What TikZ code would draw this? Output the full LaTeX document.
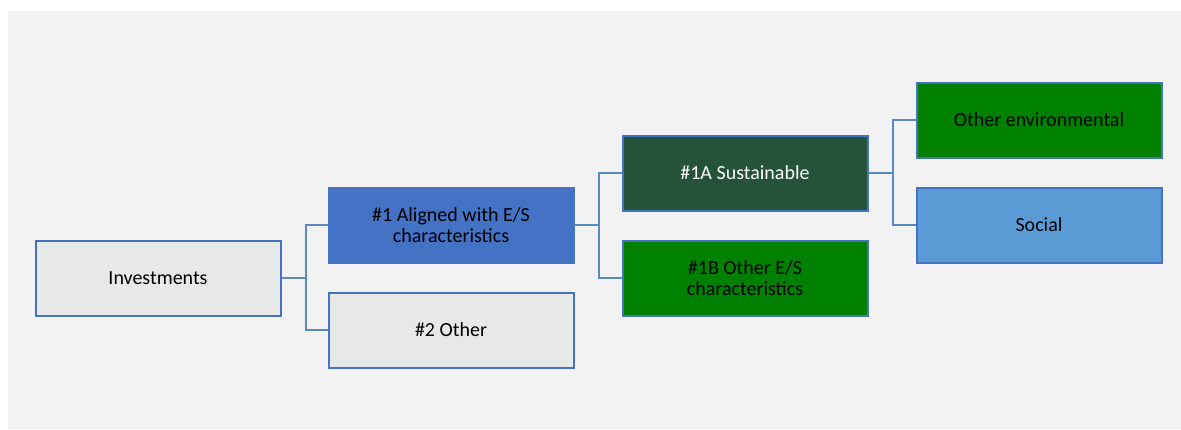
\documentclass[tikz,border=0pt]{standalone}
\usepackage{fontspec}
\setmainfont{Carlito}
\usepackage{xcolor}
\usetikzlibrary{positioning,calc}
\definecolor{bgrey}{HTML}{F2F2F2}
\definecolor{lgrey}{HTML}{E7E9E9}
\definecolor{esblue}{HTML}{4472C4}
\definecolor{lblue}{HTML}{5B9BD5}
\definecolor{dgreen}{HTML}{25533A}
\definecolor{mgreen}{HTML}{008000}
\definecolor{linkc}{HTML}{5A88C2}

\begin{document}
\begin{tikzpicture}[x=1pt, y=-1pt,
    box/.style={draw=esblue, line width=2pt, minimum width=245pt, minimum height=75pt,
        align=center, font=\fontsize{20}{21}\selectfont, inner sep=0pt},
    link/.style={draw=linkc, line width=2pt}]
    \useasboundingbox (0,0) rectangle (1181,429);
    \fill[bgrey] (8,11) rectangle (1181,429);

    \node[box, fill=lgrey] (inv) at (158,278) {Investments};
    \node[box, fill=esblue] (alig) at (451,225) {\#1 Aligned with E/S\\characteristics};
    \node[box, fill=lgrey] (oth) at (451,330) {\#2 Other};
    \node[box, fill=dgreen, text=white] (sust) at (745,173) {\#1A Sustainable};
    \node[box, fill=mgreen] (oes) at (745,278) {\#1B Other E/S\\characteristics};
    \node[box, fill=mgreen] (env) at (1039,120) {Other environmental};
    \node[box, fill=lblue] (soc) at (1039,225) {Social};

    % elbow connectors
    \draw[link] (inv.east) -- ++(24,0) coordinate (j1) |- (alig.west);
    \draw[link] (j1) |- (oth.west);
    \draw[link] (alig.east) -- ++(24,0) coordinate (j2) |- (sust.west);
    \draw[link] (j2) |- (oes.west);
    \draw[link] (sust.east) -- ++(24,0) coordinate (j3) |- (env.west);
    \draw[link] (j3) |- (soc.west);
\end{tikzpicture}
\end{document}
